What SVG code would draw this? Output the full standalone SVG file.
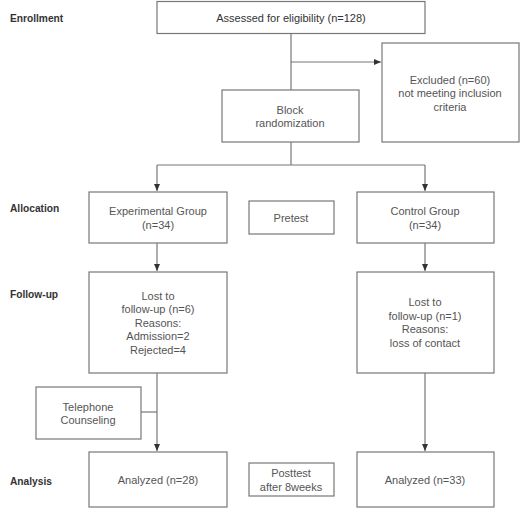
<svg xmlns="http://www.w3.org/2000/svg" width="532" height="512" viewBox="0 0 532 512">
<style>
.box{fill:#fff;stroke:#777;stroke-width:1.2}
.t{font-family:"Liberation Sans",Arial,sans-serif;font-size:11px;fill:#555;text-anchor:middle}
.tb{font-family:"Liberation Sans",Arial,sans-serif;font-size:11px;fill:#333;text-anchor:middle}
.lab{font-family:"Liberation Sans",Arial,sans-serif;font-size:10.2px;font-weight:bold;fill:#333}
.ln{fill:none;stroke:#777;stroke-width:1.2}
</style>
<defs>
<marker id="ah" markerWidth="8" markerHeight="8" refX="7" refY="4" orient="auto" markerUnits="userSpaceOnUse">
<path d="M0,1 L7,4 L0,7 Z" fill="#333"/>
</marker>
</defs>
<rect width="532" height="512" fill="#fff"/>
<g id="labels">
<text class="lab" x="10" y="22">Enrollment</text>
<text class="lab" x="10" y="212">Allocation</text>
<text class="lab" x="10" y="298">Follow-up</text>
<text class="lab" x="10" y="485">Analysis</text>
</g>
<g id="connectors">
<path class="ln" d="M291,33 V90"/>
<path class="ln" d="M291,62 H381" marker-end="url(#ah)"/>
<path class="ln" d="M291,142 V165 M157,165 H425"/>
<path class="ln" d="M157,165 V191" marker-end="url(#ah)"/>
<path class="ln" d="M425,165 V191" marker-end="url(#ah)"/>
<path class="ln" d="M157,243 V271" marker-end="url(#ah)"/>
<path class="ln" d="M425,243 V271" marker-end="url(#ah)"/>
<path class="ln" d="M141,412 H157"/>
<path class="ln" d="M157,373 V451" marker-end="url(#ah)"/>
<path class="ln" d="M425,373 V451" marker-end="url(#ah)"/>
</g>
<g id="assessed">
<rect class="box" x="157" y="1.5" width="268" height="32"/>
<text class="tb" x="291" y="22">Assessed for eligibility (n=128)</text>
</g>
<g id="excluded">
<rect class="box" x="382" y="43" width="137" height="99"/>
<text class="t" x="450" y="84">Excluded (n=60)</text>
<text class="t" x="450" y="97">not meeting inclusion</text>
<text class="t" x="450" y="111">criteria</text>
</g>
<g id="block">
<rect class="box" x="222" y="90" width="137" height="52"/>
<text class="t" x="290" y="114">Block</text>
<text class="t" x="290" y="127">randomization</text>
</g>
<g id="experimental">
<rect class="box" x="89" y="192" width="138" height="51"/>
<text class="t" x="158" y="215">Experimental Group</text>
<text class="t" x="158" y="229">(n=34)</text>
</g>
<g id="pretest">
<rect class="box" x="249" y="201" width="85" height="33"/>
<text class="t" x="291" y="222">Pretest</text>
</g>
<g id="control">
<rect class="box" x="357" y="192" width="137" height="51"/>
<text class="t" x="425" y="215">Control Group</text>
<text class="t" x="425" y="229">(n=34)</text>
</g>
<g id="lost-exp">
<rect class="box" x="89" y="272" width="138" height="101"/>
<text class="t" x="158" y="300">Lost to</text>
<text class="t" x="158" y="313">follow-up (n=6)</text>
<text class="t" x="158" y="327">Reasons:</text>
<text class="t" x="158" y="340">Admission=2</text>
<text class="t" x="158" y="354">Rejected=4</text>
</g>
<g id="lost-ctrl">
<rect class="box" x="357" y="272" width="137" height="101"/>
<text class="t" x="425" y="306">Lost to</text>
<text class="t" x="425" y="320">follow-up (n=1)</text>
<text class="t" x="425" y="333">Reasons:</text>
<text class="t" x="425" y="347">loss of contact</text>
</g>
<g id="telephone">
<rect class="box" x="36" y="387" width="105" height="52"/>
<text class="t" x="88" y="411">Telephone</text>
<text class="t" x="88" y="424">Counseling</text>
</g>
<g id="analyzed-exp">
<rect class="box" x="89" y="452" width="138" height="55"/>
<text class="t" x="158" y="484">Analyzed (n=28)</text>
</g>
<g id="posttest">
<rect class="box" x="249" y="463" width="85" height="33"/>
<text class="t" x="291" y="477">Posttest</text>
<text class="t" x="291" y="491">after 8weeks</text>
</g>
<g id="analyzed-ctrl">
<rect class="box" x="357" y="452" width="137" height="55"/>
<text class="t" x="425" y="484">Analyzed (n=33)</text>
</g>
</svg>
